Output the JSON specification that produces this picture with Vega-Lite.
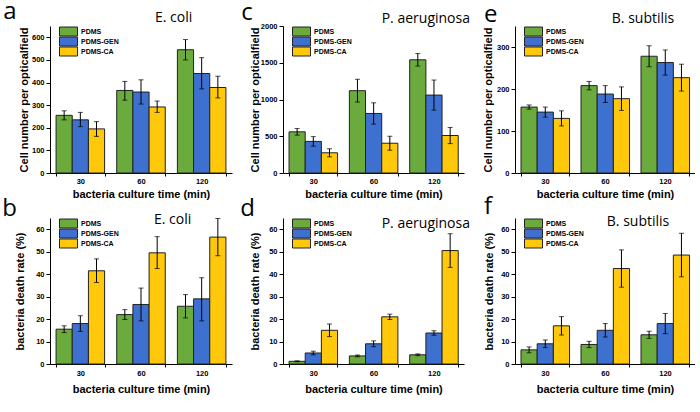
{
  "$schema": "https://vega.github.io/schema/vega-lite/v6.json",
  "background": "white",
  "padding": {"left": 2, "top": 0, "right": 0, "bottom": 0},
  "datasets": {
    "d": [
      {"panel": "a", "time": "30", "group": "PDMS", "value": 255, "lo": 235, "hi": 275},
      {"panel": "a", "time": "30", "group": "PDMS-GEN", "value": 235, "lo": 205, "hi": 268},
      {"panel": "a", "time": "30", "group": "PDMS-CA", "value": 195, "lo": 162, "hi": 227},
      {"panel": "a", "time": "60", "group": "PDMS", "value": 365, "lo": 322, "hi": 405},
      {"panel": "a", "time": "60", "group": "PDMS-GEN", "value": 358, "lo": 305, "hi": 412},
      {"panel": "a", "time": "60", "group": "PDMS-CA", "value": 292, "lo": 268, "hi": 318},
      {"panel": "a", "time": "120", "group": "PDMS", "value": 545, "lo": 500, "hi": 590},
      {"panel": "a", "time": "120", "group": "PDMS-GEN", "value": 440, "lo": 372, "hi": 510},
      {"panel": "a", "time": "120", "group": "PDMS-CA", "value": 378, "lo": 332, "hi": 428},
      {"panel": "c", "time": "30", "group": "PDMS", "value": 560, "lo": 515, "hi": 605},
      {"panel": "c", "time": "30", "group": "PDMS-GEN", "value": 430, "lo": 365, "hi": 495},
      {"panel": "c", "time": "30", "group": "PDMS-CA", "value": 275, "lo": 220, "hi": 330},
      {"panel": "c", "time": "60", "group": "PDMS", "value": 1120, "lo": 965, "hi": 1275},
      {"panel": "c", "time": "60", "group": "PDMS-GEN", "value": 810, "lo": 665, "hi": 955},
      {"panel": "c", "time": "60", "group": "PDMS-CA", "value": 405, "lo": 310, "hi": 500},
      {"panel": "c", "time": "120", "group": "PDMS", "value": 1540, "lo": 1455, "hi": 1625},
      {"panel": "c", "time": "120", "group": "PDMS-GEN", "value": 1060, "lo": 855, "hi": 1265},
      {"panel": "c", "time": "120", "group": "PDMS-CA", "value": 510, "lo": 400, "hi": 620},
      {"panel": "e", "time": "30", "group": "PDMS", "value": 157, "lo": 152, "hi": 162},
      {"panel": "e", "time": "30", "group": "PDMS-GEN", "value": 145, "lo": 133, "hi": 157},
      {"panel": "e", "time": "30", "group": "PDMS-CA", "value": 130, "lo": 112, "hi": 148},
      {"panel": "e", "time": "60", "group": "PDMS", "value": 208, "lo": 198, "hi": 218},
      {"panel": "e", "time": "60", "group": "PDMS-GEN", "value": 188, "lo": 168, "hi": 208},
      {"panel": "e", "time": "60", "group": "PDMS-CA", "value": 177, "lo": 149, "hi": 205},
      {"panel": "e", "time": "120", "group": "PDMS", "value": 278, "lo": 253, "hi": 303},
      {"panel": "e", "time": "120", "group": "PDMS-GEN", "value": 263, "lo": 233, "hi": 293},
      {"panel": "e", "time": "120", "group": "PDMS-CA", "value": 227, "lo": 195, "hi": 259},
      {"panel": "b", "time": "30", "group": "PDMS", "value": 15.5, "lo": 14, "hi": 17},
      {"panel": "b", "time": "30", "group": "PDMS-GEN", "value": 18, "lo": 14.5, "hi": 21.5},
      {"panel": "b", "time": "30", "group": "PDMS-CA", "value": 41.5, "lo": 36.3, "hi": 46.8},
      {"panel": "b", "time": "60", "group": "PDMS", "value": 22, "lo": 19.8, "hi": 24.2},
      {"panel": "b", "time": "60", "group": "PDMS-GEN", "value": 26.5, "lo": 19.2, "hi": 33.8},
      {"panel": "b", "time": "60", "group": "PDMS-CA", "value": 49.5, "lo": 42.5, "hi": 56.7},
      {"panel": "b", "time": "120", "group": "PDMS", "value": 25.7, "lo": 20.5, "hi": 30.9},
      {"panel": "b", "time": "120", "group": "PDMS-GEN", "value": 29, "lo": 19.2, "hi": 38.4},
      {"panel": "b", "time": "120", "group": "PDMS-CA", "value": 56.5, "lo": 48.2, "hi": 64.8},
      {"panel": "d", "time": "30", "group": "PDMS", "value": 1.2, "lo": 1.0, "hi": 1.4},
      {"panel": "d", "time": "30", "group": "PDMS-GEN", "value": 4.9, "lo": 4.1, "hi": 5.7},
      {"panel": "d", "time": "30", "group": "PDMS-CA", "value": 15, "lo": 12.2, "hi": 17.8},
      {"panel": "d", "time": "60", "group": "PDMS", "value": 3.6, "lo": 3.2, "hi": 4.0},
      {"panel": "d", "time": "60", "group": "PDMS-GEN", "value": 9, "lo": 7.7, "hi": 10.3},
      {"panel": "d", "time": "60", "group": "PDMS-CA", "value": 21, "lo": 19.8, "hi": 22.2},
      {"panel": "d", "time": "120", "group": "PDMS", "value": 4.1, "lo": 3.7, "hi": 4.5},
      {"panel": "d", "time": "120", "group": "PDMS-GEN", "value": 13.8, "lo": 12.8, "hi": 14.8},
      {"panel": "d", "time": "120", "group": "PDMS-CA", "value": 50.5, "lo": 43, "hi": 58},
      {"panel": "f", "time": "30", "group": "PDMS", "value": 6.3, "lo": 5, "hi": 7.6},
      {"panel": "f", "time": "30", "group": "PDMS-GEN", "value": 9, "lo": 7.3, "hi": 10.7},
      {"panel": "f", "time": "30", "group": "PDMS-CA", "value": 17, "lo": 12.9, "hi": 21.1},
      {"panel": "f", "time": "60", "group": "PDMS", "value": 8.7, "lo": 7.3, "hi": 10.1},
      {"panel": "f", "time": "60", "group": "PDMS-GEN", "value": 15, "lo": 12, "hi": 18},
      {"panel": "f", "time": "60", "group": "PDMS-CA", "value": 42.5, "lo": 34.2, "hi": 50.8},
      {"panel": "f", "time": "120", "group": "PDMS", "value": 13, "lo": 11.4, "hi": 14.6},
      {"panel": "f", "time": "120", "group": "PDMS-GEN", "value": 18, "lo": 13.5, "hi": 22.5},
      {"panel": "f", "time": "120", "group": "PDMS-CA", "value": 48.5, "lo": 38.8, "hi": 58.2}
    ]
  },
  "config": {
    "view": {"stroke": null},
    "font": "Liberation Sans",
    "axis": {"domainColor": "#000", "tickColor": "#000", "labelColor": "#000", "titleColor": "#000", "labelFont": "Liberation Sans", "labelFontSize": 7.5, "labelFontWeight": "bold", "labelOverlap": false, "titleFont": "Liberation Sans", "titleFontSize": 11, "titleFontWeight": "bold", "grid": false, "domainWidth": 1, "tickWidth": 1},
    "axisY": {"tickCount": 20},
    "legend": {"title": null, "orient": "none", "legendX": 9, "legendY": 2, "symbolType": "M-1,-1.5H5V1.5H-1Z", "symbolSize": 36, "symbolStrokeColor": "#222", "symbolStrokeWidth": 1, "symbolOpacity": 1, "labelFont": "Liberation Sans", "labelFontWeight": "bold", "labelFontSize": 7, "labelColor": "#000", "labelOffset": 15, "rowPadding": -3},
    "text": {"font": "Open Sans", "fontSize": 14, "align": "center", "baseline": "alphabetic", "color": "#000"}
  },
  "columns": 3,
  "spacing": {"row": 45, "column": 51},
  "bounds": "flush",
  "resolve": {"legend": {"color": "independent"}},
  "concat": [
    {
      "width": 182, "height": 147,
      "layer": [
        {
          "data": {"name": "d"}, "transform": [{"filter": "datum.panel == 'a'"}],
          "encoding": {
            "x": {"field": "time", "type": "nominal", "scale": {"domain": ["30", "60", "120"], "paddingInner": 0.2, "paddingOuter": 0.1}, "axis": {"title": "bacteria culture time (min)", "labelAngle": 0, "tickBand": "extent", "tickSize": 3, "labelPadding": 1.5, "titlePadding": 3}},
            "xOffset": {"field": "group", "type": "nominal", "scale": {"domain": ["PDMS", "PDMS-GEN", "PDMS-CA"], "paddingInner": 0, "paddingOuter": 0}}
          },
          "layer": [
            {"mark": {"type": "bar", "stroke": "#222", "strokeWidth": 1}, "encoding": {
              "y": {"field": "value", "type": "quantitative", "scale": {"domain": [0, 650], "nice": false}, "axis": {"title": "Cell number per opticalfield", "values": [0, 100, 200, 300, 400, 500, 600], "tickCount": 20, "format": "d", "tickSize": 4, "labelPadding": 2, "titlePadding": 2}},
              "color": {"field": "group", "type": "nominal", "scale": {"domain": ["PDMS", "PDMS-GEN", "PDMS-CA"], "range": ["#6bab3e", "#3d70cf", "#ffc80a"]}}}},
            {"mark": {"type": "rule", "color": "#000", "strokeWidth": 1}, "encoding": {"y": {"field": "lo", "type": "quantitative"}, "y2": {"field": "hi"}}},
            {"mark": {"type": "tick", "color": "#000", "size": 5, "thickness": 1}, "encoding": {"y": {"field": "lo", "type": "quantitative"}}},
            {"mark": {"type": "tick", "color": "#000", "size": 5, "thickness": 1}, "encoding": {"y": {"field": "hi", "type": "quantitative"}}}
          ]
        },
        {"data": {"values": [{"species": "E. coli"}]}, "mark": {"type": "text", "dx": -28, "dy": -4}, "encoding": {"x": {"datum": "120"}, "y": {"datum": 650}, "text": {"field": "species"}}},
        {"data": {"values": [{"letter": "a"}]}, "mark": {"type": "text", "fontSize": 24, "align": "left", "dx": -77, "dy": -7}, "encoding": {"x": {"datum": "30"}, "y": {"datum": 650}, "text": {"field": "letter"}}}
      ]
    },
    {
      "width": 181, "height": 147,
      "layer": [
        {
          "data": {"name": "d"}, "transform": [{"filter": "datum.panel == 'c'"}],
          "encoding": {
            "x": {"field": "time", "type": "nominal", "scale": {"domain": ["30", "60", "120"], "paddingInner": 0.2, "paddingOuter": 0.1}, "axis": {"title": "bacteria culture time (min)", "labelAngle": 0, "tickBand": "extent", "tickSize": 3, "labelPadding": 1.5, "titlePadding": 3}},
            "xOffset": {"field": "group", "type": "nominal", "scale": {"domain": ["PDMS", "PDMS-GEN", "PDMS-CA"], "paddingInner": 0, "paddingOuter": 0}}
          },
          "layer": [
            {"mark": {"type": "bar", "stroke": "#222", "strokeWidth": 1}, "encoding": {
              "y": {"field": "value", "type": "quantitative", "scale": {"domain": [0, 2000], "nice": false}, "axis": {"title": "Cell number per opticalfield", "values": [0, 500, 1000, 1500, 2000], "tickCount": 20, "format": "d", "tickSize": 4, "labelPadding": 2, "titlePadding": 0}},
              "color": {"field": "group", "type": "nominal", "scale": {"domain": ["PDMS", "PDMS-GEN", "PDMS-CA"], "range": ["#6bab3e", "#3d70cf", "#ffc80a"]}}}},
            {"mark": {"type": "rule", "color": "#000", "strokeWidth": 1}, "encoding": {"y": {"field": "lo", "type": "quantitative"}, "y2": {"field": "hi"}}},
            {"mark": {"type": "tick", "color": "#000", "size": 5, "thickness": 1}, "encoding": {"y": {"field": "lo", "type": "quantitative"}}},
            {"mark": {"type": "tick", "color": "#000", "size": 5, "thickness": 1}, "encoding": {"y": {"field": "hi", "type": "quantitative"}}}
          ]
        },
        {"data": {"values": [{"species": "P. aeruginosa"}]}, "mark": {"type": "text", "dx": -8, "dy": -3}, "encoding": {"x": {"datum": "120"}, "y": {"datum": 2000}, "text": {"field": "species"}}},
        {"data": {"values": [{"letter": "c"}]}, "mark": {"type": "text", "fontSize": 24, "align": "left", "dx": -72, "dy": -6}, "encoding": {"x": {"datum": "30"}, "y": {"datum": 2000}, "text": {"field": "letter"}}}
      ]
    },
    {
      "width": 180, "height": 147,
      "layer": [
        {
          "data": {"name": "d"}, "transform": [{"filter": "datum.panel == 'e'"}],
          "encoding": {
            "x": {"field": "time", "type": "nominal", "scale": {"domain": ["30", "60", "120"], "paddingInner": 0.2, "paddingOuter": 0.1}, "axis": {"title": "bacteria culture time (min)", "labelAngle": 0, "tickBand": "extent", "tickSize": 3, "labelPadding": 1.5, "titlePadding": 3}},
            "xOffset": {"field": "group", "type": "nominal", "scale": {"domain": ["PDMS", "PDMS-GEN", "PDMS-CA"], "paddingInner": 0, "paddingOuter": 0}}
          },
          "layer": [
            {"mark": {"type": "bar", "stroke": "#222", "strokeWidth": 1}, "encoding": {
              "y": {"field": "value", "type": "quantitative", "scale": {"domain": [0, 350], "nice": false}, "axis": {"title": "Cell number per opticalfield", "values": [0, 100, 200, 300], "tickCount": 20, "format": "d", "tickSize": 4, "labelPadding": 2, "titlePadding": 3}},
              "color": {"field": "group", "type": "nominal", "scale": {"domain": ["PDMS", "PDMS-GEN", "PDMS-CA"], "range": ["#6bab3e", "#3d70cf", "#ffc80a"]}}}},
            {"mark": {"type": "rule", "color": "#000", "strokeWidth": 1}, "encoding": {"y": {"field": "lo", "type": "quantitative"}, "y2": {"field": "hi"}}},
            {"mark": {"type": "tick", "color": "#000", "size": 5, "thickness": 1}, "encoding": {"y": {"field": "lo", "type": "quantitative"}}},
            {"mark": {"type": "tick", "color": "#000", "size": 5, "thickness": 1}, "encoding": {"y": {"field": "hi", "type": "quantitative"}}}
          ]
        },
        {"data": {"values": [{"species": "B. subtilis"}]}, "mark": {"type": "text", "dx": -22, "dy": -3}, "encoding": {"x": {"datum": "120"}, "y": {"datum": 350}, "text": {"field": "species"}}},
        {"data": {"values": [{"letter": "e"}]}, "mark": {"type": "text", "fontSize": 24, "align": "left", "dx": -61, "dy": -4}, "encoding": {"x": {"datum": "30"}, "y": {"datum": 350}, "text": {"field": "letter"}}}
      ]
    },
    {
      "width": 182, "height": 146,
      "layer": [
        {
          "data": {"name": "d"}, "transform": [{"filter": "datum.panel == 'b'"}],
          "encoding": {
            "x": {"field": "time", "type": "nominal", "scale": {"domain": ["30", "60", "120"], "paddingInner": 0.2, "paddingOuter": 0.1}, "axis": {"title": "bacteria culture time (min)", "labelAngle": 0, "tickBand": "extent", "tickSize": 3, "labelPadding": 2, "titlePadding": 7}},
            "xOffset": {"field": "group", "type": "nominal", "scale": {"domain": ["PDMS", "PDMS-GEN", "PDMS-CA"], "paddingInner": 0, "paddingOuter": 0}}
          },
          "layer": [
            {"mark": {"type": "bar", "stroke": "#222", "strokeWidth": 1}, "encoding": {
              "y": {"field": "value", "type": "quantitative", "scale": {"domain": [0, 65], "nice": false}, "axis": {"title": "bacteria death rate (%)", "values": [0, 10, 20, 30, 40, 50, 60], "tickCount": 20, "tickSize": 4, "labelPadding": 2, "titlePadding": 10}},
              "color": {"field": "group", "type": "nominal", "scale": {"domain": ["PDMS", "PDMS-GEN", "PDMS-CA"], "range": ["#6bab3e", "#3d70cf", "#ffc80a"]}}}},
            {"mark": {"type": "rule", "color": "#000", "strokeWidth": 1}, "encoding": {"y": {"field": "lo", "type": "quantitative"}, "y2": {"field": "hi"}}},
            {"mark": {"type": "tick", "color": "#000", "size": 5, "thickness": 1}, "encoding": {"y": {"field": "lo", "type": "quantitative"}}},
            {"mark": {"type": "tick", "color": "#000", "size": 5, "thickness": 1}, "encoding": {"y": {"field": "hi", "type": "quantitative"}}}
          ]
        },
        {"data": {"values": [{"species": "E. coli"}]}, "mark": {"type": "text", "dx": -29, "dy": 6}, "encoding": {"x": {"datum": "120"}, "y": {"datum": 65}, "text": {"field": "species"}}},
        {"data": {"values": [{"letter": "b"}]}, "mark": {"type": "text", "fontSize": 24, "align": "left", "dx": -78, "dy": -2}, "encoding": {"x": {"datum": "30"}, "y": {"datum": 65}, "text": {"field": "letter"}}}
      ]
    },
    {
      "width": 181, "height": 146,
      "layer": [
        {
          "data": {"name": "d"}, "transform": [{"filter": "datum.panel == 'd'"}],
          "encoding": {
            "x": {"field": "time", "type": "nominal", "scale": {"domain": ["30", "60", "120"], "paddingInner": 0.2, "paddingOuter": 0.1}, "axis": {"title": "bacteria culture time (min)", "labelAngle": 0, "tickBand": "extent", "tickSize": 3, "labelPadding": 2, "titlePadding": 7}},
            "xOffset": {"field": "group", "type": "nominal", "scale": {"domain": ["PDMS", "PDMS-GEN", "PDMS-CA"], "paddingInner": 0, "paddingOuter": 0}}
          },
          "layer": [
            {"mark": {"type": "bar", "stroke": "#222", "strokeWidth": 1}, "encoding": {
              "y": {"field": "value", "type": "quantitative", "scale": {"domain": [0, 65], "nice": false}, "axis": {"title": "bacteria death rate (%)", "values": [0, 10, 20, 30, 40, 50, 60], "tickCount": 20, "tickSize": 4, "labelPadding": 2, "titlePadding": 8}},
              "color": {"field": "group", "type": "nominal", "scale": {"domain": ["PDMS", "PDMS-GEN", "PDMS-CA"], "range": ["#6bab3e", "#3d70cf", "#ffc80a"]}}}},
            {"mark": {"type": "rule", "color": "#000", "strokeWidth": 1}, "encoding": {"y": {"field": "lo", "type": "quantitative"}, "y2": {"field": "hi"}}},
            {"mark": {"type": "tick", "color": "#000", "size": 5, "thickness": 1}, "encoding": {"y": {"field": "lo", "type": "quantitative"}}},
            {"mark": {"type": "tick", "color": "#000", "size": 5, "thickness": 1}, "encoding": {"y": {"field": "hi", "type": "quantitative"}}}
          ]
        },
        {"data": {"values": [{"species": "P. aeruginosa"}]}, "mark": {"type": "text", "dx": -8, "dy": 10}, "encoding": {"x": {"datum": "120"}, "y": {"datum": 65}, "text": {"field": "species"}}},
        {"data": {"values": [{"letter": "d"}]}, "mark": {"type": "text", "fontSize": 24, "align": "left", "dx": -73, "dy": -2}, "encoding": {"x": {"datum": "30"}, "y": {"datum": 65}, "text": {"field": "letter"}}}
      ]
    },
    {
      "width": 180, "height": 146,
      "layer": [
        {
          "data": {"name": "d"}, "transform": [{"filter": "datum.panel == 'f'"}],
          "encoding": {
            "x": {"field": "time", "type": "nominal", "scale": {"domain": ["30", "60", "120"], "paddingInner": 0.2, "paddingOuter": 0.1}, "axis": {"title": "bacteria culture time (min)", "labelAngle": 0, "tickBand": "extent", "tickSize": 3, "labelPadding": 2, "titlePadding": 7}},
            "xOffset": {"field": "group", "type": "nominal", "scale": {"domain": ["PDMS", "PDMS-GEN", "PDMS-CA"], "paddingInner": 0, "paddingOuter": 0}}
          },
          "layer": [
            {"mark": {"type": "bar", "stroke": "#222", "strokeWidth": 1}, "encoding": {
              "y": {"field": "value", "type": "quantitative", "scale": {"domain": [0, 65], "nice": false}, "axis": {"title": "bacteria death rate (%)", "values": [0, 10, 20, 30, 40, 50, 60], "tickCount": 20, "tickSize": 4, "labelPadding": 2, "titlePadding": 6}},
              "color": {"field": "group", "type": "nominal", "scale": {"domain": ["PDMS", "PDMS-GEN", "PDMS-CA"], "range": ["#6bab3e", "#3d70cf", "#ffc80a"]}}}},
            {"mark": {"type": "rule", "color": "#000", "strokeWidth": 1}, "encoding": {"y": {"field": "lo", "type": "quantitative"}, "y2": {"field": "hi"}}},
            {"mark": {"type": "tick", "color": "#000", "size": 5, "thickness": 1}, "encoding": {"y": {"field": "lo", "type": "quantitative"}}},
            {"mark": {"type": "tick", "color": "#000", "size": 5, "thickness": 1}, "encoding": {"y": {"field": "hi", "type": "quantitative"}}}
          ]
        },
        {"data": {"values": [{"species": "B. subtilis"}]}, "mark": {"type": "text", "dx": -27, "dy": 8}, "encoding": {"x": {"datum": "120"}, "y": {"datum": 65}, "text": {"field": "species"}}},
        {"data": {"values": [{"letter": "f"}]}, "mark": {"type": "text", "fontSize": 24, "align": "left", "dx": -61, "dy": -4}, "encoding": {"x": {"datum": "30"}, "y": {"datum": 65}, "text": {"field": "letter"}}}
      ]
    }
  ]
}
